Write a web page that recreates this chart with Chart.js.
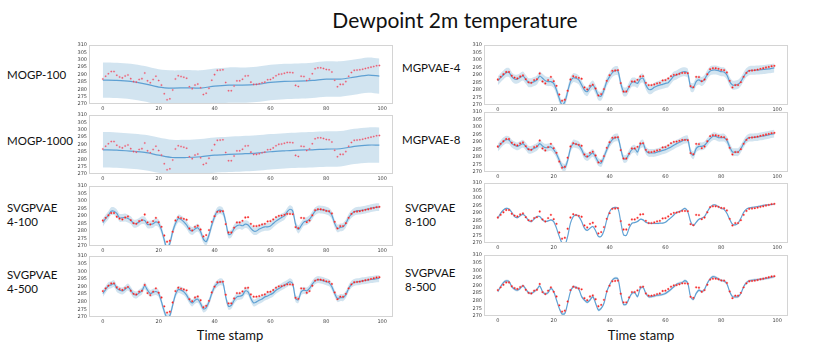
<!DOCTYPE html>
<html><head><meta charset="utf-8">
<script src="https://cdn.jsdelivr.net/npm/chart.js@4.4.0/dist/chart.umd.min.js"></script>
<style>
body{margin:0;background:#fff;width:830px;height:349px;position:relative;overflow:hidden;font-family:Lato,'Open Sans',sans-serif;}
.lbl{position:absolute;font-size:11.5px;line-height:14px;color:#111;white-space:nowrap;}
.cw{position:absolute;}
</style></head><body>
<div class="lbl" style="left:0;width:910px;top:8px;font-size:21px;line-height:24px;text-align:center">Dewpoint 2m temperature</div>
<div class="lbl" style="left:7px;top:68px">MOGP-100</div>
<div class="lbl" style="left:7px;top:134px">MOGP-1000</div>
<div class="lbl" style="left:7px;top:201px">SVGPVAE<br>4-100</div>
<div class="lbl" style="left:7px;top:268px">SVGPVAE<br>4-500</div>
<div class="lbl" style="left:402px;top:61px">MGPVAE-4</div>
<div class="lbl" style="left:402px;top:133px">MGPVAE-8</div>
<div class="lbl" style="left:405px;top:201px">SVGPVAE<br>8-100</div>
<div class="lbl" style="left:405px;top:266px">SVGPVAE<br>8-500</div>
<div class="lbl" style="left:130px;width:200px;text-align:center;top:327px;font-size:13px;line-height:16px">Time stamp</div>
<div class="lbl" style="left:541px;width:200px;text-align:center;top:327px;font-size:13px;line-height:16px">Time stamp</div>
<script>
// ---- data ----
const xTicks = [0, 20, 40, 60, 80, 100];
const yTicks = [270, 275, 280, 285, 290, 295, 300, 305, 310];

// observed dewpoint (red dots), time stamps 0..99
const observed = [287,288.8,290.5,292,292,289.5,288.3,287.7,289,289.7,
287.2,285.2,284.8,286.6,287.2,291,285.7,284.4,286.6,288.8,
285.9,282.8,277,272.9,273.5,279.5,287,289.2,288.6,288.1,
287.5,281.7,280.4,282.8,283.5,281,276.4,277.3,280.6,286.1,
289.9,292.8,293,293.2,284.6,279,279,282.2,285.7,285.7,
286.8,289,289.2,284.8,283.3,283.3,283.7,284.4,284.8,286.4,
286.6,287.7,289.2,290.1,290.3,290.8,291.4,291.4,291.2,282.6,
281.9,288.8,288.6,285.9,287,290.5,293.9,294.5,294.5,294.1,
293.4,293.2,291.7,286.1,281.7,283.3,283.3,285.2,288.8,291.4,
292.8,293,293.2,293.6,294.1,294.5,295,295.4,295.9,296.1];

// MOGP means (read every 5 time stamps)
const mogpX = [0,5,10,15,20,25,30,35,40,45,50,55,60,65,70,75,80,85,90,95,99];
const mogp100Mean  = [286.2,286.0,285.3,283.7,281.5,280.8,281.0,280.8,282.1,282.8,282.8,283.3,284.6,285.3,285.5,286.0,286.9,286.9,288.2,289.6,288.9];
const mogp1000Mean = [286.4,286.2,285.5,284.6,282.8,281.2,281.2,281.7,282.8,283.3,283.7,284.2,285.1,285.7,286.2,286.4,286.9,287.1,288.7,289.6,289.6];

const svgp4_100Mean = [285.5,288.2,290.5,293.2,293.2,291.7,288.8,288.8,289,288.3,
287.2,285,285,286,287.2,287,284.4,284.4,284.8,286.1,
285,280.6,274,268,271.8,279.5,285,288.3,287.7,286.1,
284,281,280,281.3,282.2,279.5,274.6,272.9,277.3,284,
289.5,293.2,293.9,292.8,286.1,277.7,278.3,281.7,283.5,284,
283.5,284.6,284,281.7,280,280,281.3,282.2,282.8,282.8,
283.3,285,286.6,287.9,289,290.1,292.8,294.5,293.2,284.4,
281,283.5,286.1,286.6,287.9,290.5,293.2,294.3,294.3,294.1,
293.6,292.8,290.5,285,281.7,282.4,282.8,285,288.8,291.2,
292.8,293.4,293.6,293.9,294.3,294.7,295.2,295.6,295.9,295.9];

const svgp4_500Mean = [285.4,288,290.5,291.1,292,288.7,287.6,287.1,288.2,289.6,
287.6,285,284.5,285.8,287.1,290.5,287.6,285.4,286.2,286.7,
285.4,279.9,273.7,269.5,271,277.7,284.7,288,287.6,286.5,
284.3,281,279.2,281,281.6,278.8,275.3,276.2,279.9,285.4,
289.8,292,293.1,292.4,283.2,277,277.7,281,283.2,283.6,
284.3,287.1,286.5,282.1,279.2,279.9,281,281.8,283.2,283.8,
284.7,285.8,287.6,288.7,289.8,290.9,292,293.1,291.6,282.1,
281.4,286.5,287.6,287.1,288.7,291.6,293.7,294.6,294.2,293.7,
293.1,292.4,289.8,285.4,282.1,282.7,282.7,284.7,288.7,291.4,
292.6,293.1,293.3,293.7,294,294.2,294.6,294.8,295.1,295.3];

const mgpvae4Mean = [286.2,288.2,290,291.6,291.6,288.9,287.3,287.3,288.4,289.3,
287.1,284.9,284.9,285.6,286.7,289.3,287.8,286.2,285.6,285.6,
284.4,280,274.4,270,272.2,278.9,285.6,288.2,287.8,286.7,
283.3,280,278.9,281.6,283.3,280.4,276.2,276,280,285.6,
288.9,291.6,292.9,292.7,284.4,278.9,278.9,282.2,285.1,285.3,
284.4,287.3,287.8,283.3,280.4,280.4,281.8,282.7,283.3,283.8,
284.4,284.9,287.1,289.3,290,291.1,292,292.2,291.1,282.2,
281.6,285.6,286.7,285.6,287.1,290.4,292.7,293.3,293.3,292.9,
292.2,292,290,285.6,283.3,283.3,283.8,285.6,288.9,291.6,
292.9,293.1,293.2,293.3,293.5,293.7,293.9,294.1,294.4,294.7];

const mgpvae8Mean = [286.2,288.5,290.5,291.6,291.3,288.9,287.8,287.1,288,288.9,
287.1,284.9,284.9,285.8,286.7,288.9,287.3,286.2,286.4,286.7,
284.9,282,277.8,273.8,272.9,277.8,285.6,288.9,288.6,287.8,
285,281.1,280,281.3,282.7,280,276.7,276,280,284.9,
288.9,291.6,292.9,292.9,285.6,278.9,278.9,282.2,284.9,285.6,
283.3,288.2,288.9,284.4,282.7,282.7,282.7,283.3,283.8,284.4,
284.9,285.8,286.7,287.8,288.9,289.8,290.7,291.6,291.6,283.3,
281.1,285.6,287.1,287.1,287.8,290,292.2,293.8,293.8,292.9,
292.9,292.9,291.1,286.7,283.3,283.3,283.3,285.6,288.9,291.8,
292.9,293,293.2,293.3,293.7,294,294.4,294.8,295.2,295.6];

const svgp8_100Mean = [286.5,289.8,292,293.1,292.7,290.4,287.6,286.9,288.2,289.1,
287.6,284.9,284.3,286,287.6,287.6,285.4,284.3,284.7,285.4,
284.3,279.9,274.4,270,268.9,274.4,283.2,287.6,288.7,287.6,
284.3,279.9,278.4,279.9,281,278.2,274.4,274.4,278.2,285.4,
290.9,293.1,293.7,293.1,284.3,275.5,275.1,279.9,283.2,283.6,
284.3,285.8,285.4,283.8,283.2,283,283,283,283.2,283.2,
283.8,285.4,286.9,288.7,290.4,290.9,292,293.1,290.9,284.3,
281.6,283.8,285.8,286.5,287.6,290.9,293.7,295.3,295.3,294.2,
293.1,292.4,289.8,285.8,282.5,282.1,283.2,286.5,290.4,292.6,
293.4,293.7,294,294.3,294.6,295.1,295.3,295.5,295.7,295.9];

const svgp8_500Mean = [286,289.2,291.9,293,292.6,289.2,287.5,287,288.1,289.9,
287.7,285.3,284.8,286,287.5,289.7,286,284.5,285.3,288.1,
286,280.5,275,271.3,271.7,278.4,286,289.2,288.8,287.5,
282.7,280.5,279,280.5,282.7,278.4,273.9,275,278.4,286,
290.4,293.6,294.8,294.3,284.8,277.6,277.8,281.6,284.8,285.3,
282.7,288.1,288.8,284.8,282.7,282.7,283.1,283.6,283.8,284.1,
284.8,286,287.5,289.2,290.8,291.5,291.9,293.2,291.5,282.7,
280.9,284.8,287,286,287.5,291.5,294.3,295.8,295.4,294.3,
293.2,293,291.1,286,282.7,282.5,282.7,284.8,289.2,291.9,
293,293.4,293.7,293.9,294.1,294.4,294.7,295,295.4,295.8];

// half-width of the uncertainty band per panel
const bandHalf = {mogp100: 12, mogp1000: 12, svgp4_100: 2.6, svgp4_500: 2.3, mgpvae4: 3, mgpvae8: 2.6, svgp8_100: 0.5, svgp8_500: 0.9};

// ---- layout (plot box in page pixels) ----
const panels = [
  {mean: mogp100Mean,  xs: mogpX, band: bandHalf.mogp100,  L: 89,  R: 395, T: 45,  B: 104, dot: 'pale'},
  {mean: mogp1000Mean, xs: mogpX, band: bandHalf.mogp1000, L: 89,  R: 395, T: 115, B: 174, dot: 'pale'},
  {mean: svgp4_100Mean, band: bandHalf.svgp4_100, L: 89,  R: 395, T: 186, B: 246},
  {mean: svgp4_500Mean, band: bandHalf.svgp4_500, L: 89,  R: 395, T: 256, B: 317},
  {mean: mgpvae4Mean,   band: bandHalf.mgpvae4,   L: 484, R: 790, T: 45,  B: 105},
  {mean: mgpvae8Mean,   band: bandHalf.mgpvae8,   L: 484, R: 790, T: 112, B: 172},
  {mean: svgp8_100Mean, band: bandHalf.svgp8_100, L: 484, R: 790, T: 183, B: 243},
  {mean: svgp8_500Mean, band: bandHalf.svgp8_500, L: 484, R: 790, T: 255, B: 316}
];

const frame = {id: 'frame', afterDatasetsDraw(ch) {
  const a = ch.chartArea, ctx = ch.ctx;
  ctx.save(); ctx.strokeStyle = '#d4d4d4'; ctx.lineWidth = 1;
  ctx.strokeRect(Math.round(a.left) + 0.5, Math.round(a.top) + 0.5, Math.round(a.right - a.left) - 1, Math.round(a.bottom - a.top) - 1);
  ctx.restore();
}};

const W = 15, H = 9, PT = 5, PR = 3;
const tickFont = {size: 5, family: 'DejaVu Sans'};

panels.forEach(p => {
  const w = p.R - p.L + W + PR, h = p.B - p.T + H + PT;
  const wrap = document.createElement('div');
  wrap.className = 'cw';
  wrap.style.left = (p.L - W) + 'px'; wrap.style.top = (p.T - PT) + 'px';
  wrap.style.width = w + 'px'; wrap.style.height = h + 'px';
  const c = document.createElement('canvas');
  c.width = w; c.height = h; c.style.width = w + 'px'; c.style.height = h + 'px';
  wrap.appendChild(c); document.body.appendChild(wrap);
  const xs = p.xs || p.mean.map((_, i) => i);
  const obsPts = observed.map((v, i) => ({x: i, y: v}));
  const meanPts = p.mean.map((v, i) => ({x: xs[i], y: v}));
  const upPts = p.mean.map((v, i) => ({x: xs[i], y: v + p.band}));
  const loPts = p.mean.map((v, i) => ({x: xs[i], y: v - p.band}));
  const pale = p.dot === 'pale';
  new Chart(c, {
    type: 'line',
    data: {datasets: [
      {type: 'scatter', data: obsPts, pointRadius: pale ? 0.8 : 0.9,
       pointBackgroundColor: pale ? 'rgba(230,40,60,0.85)' : '#f01010',
       pointBorderColor: pale ? 'rgba(240,150,170,0.55)' : 'rgba(255,120,120,0.55)', pointBorderWidth: 0.8, showLine: false},
      {data: meanPts, borderColor: 'rgba(50,135,200,0.72)', borderWidth: 1.2, pointRadius: 0, tension: 0.3, fill: false},
      {data: upPts, borderWidth: 0, borderColor: 'rgba(0,0,0,0)', pointRadius: 0, tension: 0.3, fill: '+1', backgroundColor: 'rgba(31,119,180,0.2)'},
      {data: loPts, borderWidth: 0, borderColor: 'rgba(0,0,0,0)', pointRadius: 0, tension: 0.3, fill: false}
    ]},
    options: {
      responsive: false, animation: false, events: [],
      layout: {padding: {top: PT, right: PR, left: 0, bottom: 0}},
      plugins: {legend: {display: false}, tooltip: {enabled: false}},
      scales: {
        x: {type: 'linear', min: -4.95, max: 103.95,
            grid: {display: false, drawTicks: false}, border: {display: false},
            ticks: {font: tickFont, color: '#444', padding: 2, maxRotation: 0, autoSkip: false},
            afterBuildTicks: s => { s.ticks = xTicks.map(v => ({value: v})); },
            afterFit: s => { s.height = H; }},
        y: {type: 'linear', min: 270, max: 310,
            grid: {display: false, drawTicks: false}, border: {display: false},
            ticks: {font: tickFont, color: '#444', padding: 2, autoSkip: false},
            afterBuildTicks: s => { s.ticks = yTicks.map(v => ({value: v})); },
            afterFit: s => { s.width = W; }}
      }
    },
    plugins: [frame]
  });
});
</script>
</body></html>
